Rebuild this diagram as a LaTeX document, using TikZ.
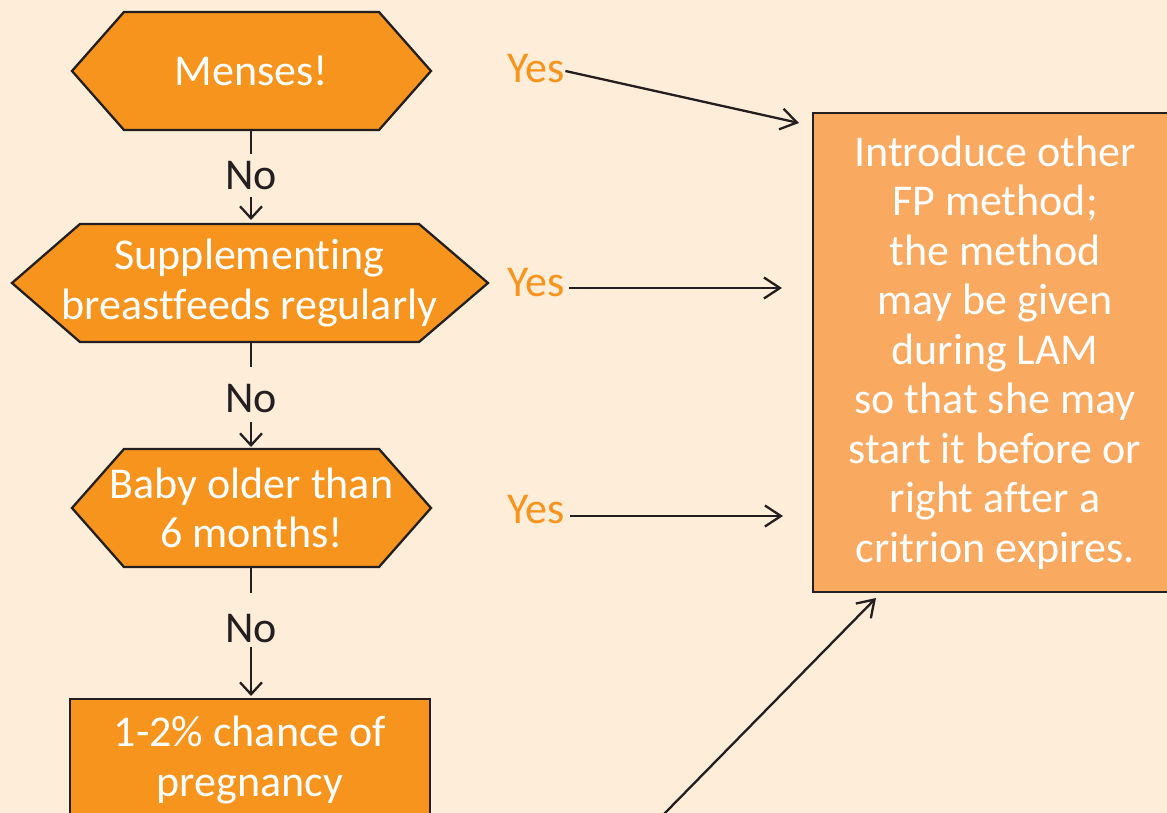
\documentclass[tikz,border=0pt]{standalone}
\usepackage{fontspec}
\setmainfont{Carlito}[Ligatures={NoCommon}]
\usetikzlibrary{arrows.meta,calc,backgrounds}
\definecolor{bgc}{RGB}{253,237,217}
\definecolor{orng}{RGB}{247,148,29}
\definecolor{lorng}{RGB}{249,169,96}
\definecolor{ink}{RGB}{35,31,32}
\newcommand\hexshape[4]{%
  \draw[hexdraw] ($(#1.center)+(-#2,-59)$) -- ($(#1.center)+(#2,-59)$)
    -- ($(#1.center)+(#2+#4,0)$) -- ($(#1.center)+(#2,59)$)
    -- ($(#1.center)+(-#2,59)$) -- ($(#1.center)+(-#2-#3,0)$) -- cycle;}
\begin{document}
\begin{tikzpicture}[x=1pt,y=-1pt,
  every node/.style={font=\fontsize{44}{49.5}\selectfont, outer sep=0pt},
  hexbox/.style={minimum height=118pt, inner sep=0pt, text=white, align=center},
  hexdraw/.style={fill=orng, draw=ink, line width=2.3pt, line join=miter},
  flowbox/.style={draw=ink, line width=2.3pt, fill=orng, text=white, align=center, inner sep=0pt},
  yeslbl/.style={text=orng, inner sep=0pt, anchor=base west},
  nolbl/.style={text=ink, inner sep=0pt, anchor=base},
  conn/.style={draw=ink, line width=2.3pt},
  vtip/.style={-{Straight Barb[length=12pt,width=22pt]}},
  ytip/.style={-{Straight Barb[length=16pt,width=21pt]}},
]
\useasboundingbox (0,0) rectangle (1167,813);
\clip (0,0) rectangle (1167,813);

% decision and result nodes
\node[hexbox, minimum width=255pt] (menses) at (251.5,71) {Menses!};
\node[hexbox, minimum width=339pt] (supp) at (249.5,283) {Supplementing\\breastfeeds regularly};
\node[hexbox, minimum width=255pt] (baby) at (251.5,508) {Baby older than\\6 months!};
\node[flowbox, minimum width=360pt, minimum height=122pt] (preg) at (250,760) {1-2\% chance of\\pregnancy};
\node[flowbox, fill=lorng, minimum width=364pt, minimum height=479pt] (rbox) at (995,352.5)
  {Introduce other\\FP method;\\the method\\may be given\\during LAM\\so that she may\\start it before or\\right after a\\critrion expires.};

% labels
\node[nolbl, text height=36pt, text depth=7pt] (no1) at (251,190) {No};
\node[nolbl, text height=45pt, text depth=10pt] (no2) at (251,412) {No};
\node[nolbl, text height=49pt, text depth=5pt] (no3) at (251,642) {No};
\node[yeslbl] (yes1) at (507,83) {Yes};
\node[yeslbl] (yes2) at (507,296) {Yes};
\node[yeslbl] (yes3) at (507,523) {Yes};

% vertical connectors
\draw[conn] (menses.south -| no1.north) -- (no1.north);
\draw[conn, vtip, shorten >=4pt] (no1.south) -- (no1.south |- supp.north);
\draw[conn] (supp.south -| no2.north) -- (no2.north);
\draw[conn, vtip, shorten >=2pt] (no2.south) -- (no2.south |- baby.north);
\draw[conn] (baby.south -| no3.north) -- (no3.north);
\draw[conn, vtip, shorten >=3pt] (no3.south) -- (no3.south |- preg.north);

% yes connectors
\path (yes2.base east -| rbox.west) coordinate (t2);
\path (yes3.base east -| rbox.west) coordinate (t3);
\coordinate (dstart) at (612,867);
\draw[conn, ytip] ($(yes1.base east)+(1,-12)$) -- ($(rbox.north west)+(-14,10)$);
\draw[conn, ytip] ($(yes2.base east)+(5,-8)$) -- ($(t2)+(-31,-8)$);
\draw[conn, ytip] ($(yes3.base east)+(6,-7)$) -- ($(t3)+(-30,-7)$);
\draw[conn, ytip] (dstart) -- ($(rbox.south west)+(63,6)$);

\begin{pgfonlayer}{background}
  \fill[bgc] (0,0) rectangle (1167,813);
  \hexshape{menses}{127.5}{52}{52}
  \hexshape{supp}{169.5}{68}{69}
  \hexshape{baby}{127.5}{52}{52}
\end{pgfonlayer}
\end{tikzpicture}
\end{document}
